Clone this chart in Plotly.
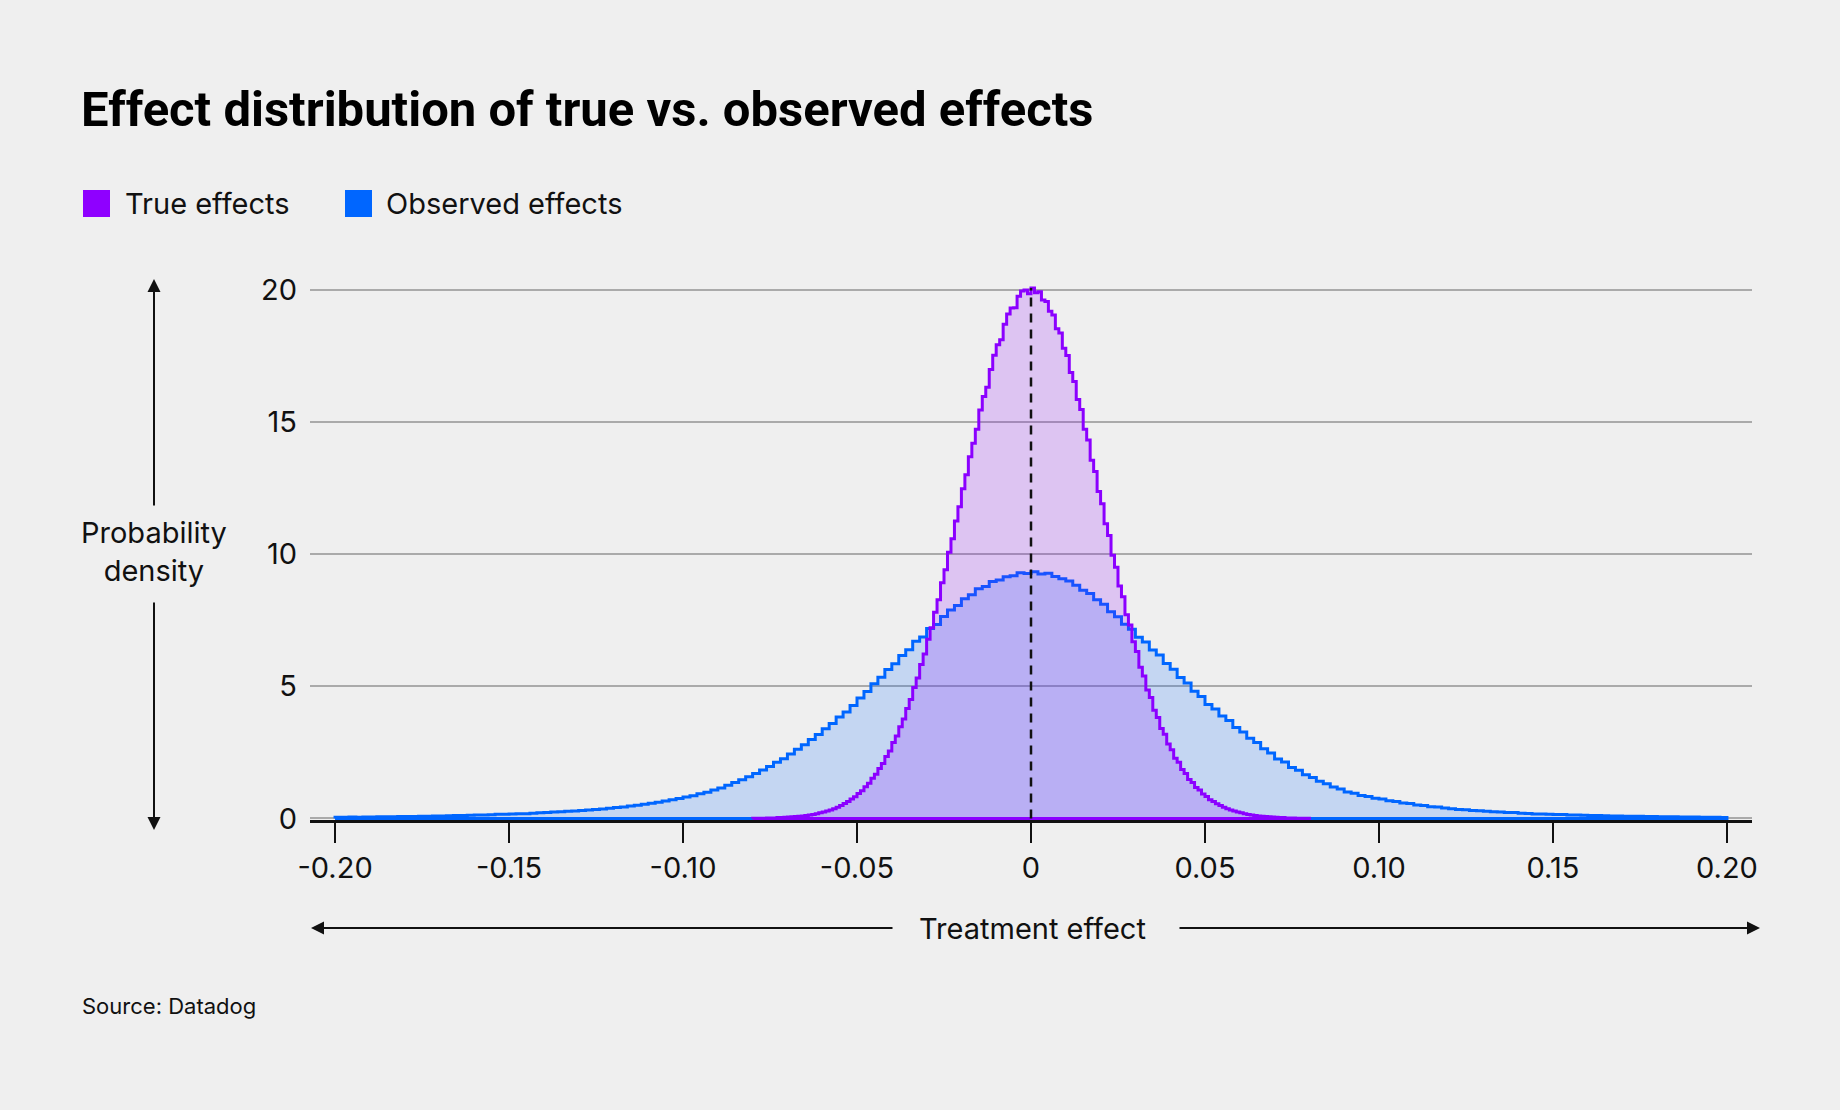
import plotly.graph_objects as go

# ---------------- data ----------------
obs_bin_start = -0.2
obs_bin_width = 0.002
obs_density = [
    0.04, 0.04, 0.05, 0.04, 0.05, 0.05, 0.06, 0.06, 0.06, 0.07,
    0.07, 0.07, 0.08, 0.08, 0.09, 0.09, 0.10, 0.11, 0.11, 0.12,
    0.13, 0.13, 0.14, 0.16, 0.16, 0.17, 0.18, 0.18, 0.20, 0.21,
    0.22, 0.24, 0.25, 0.27, 0.28, 0.30, 0.32, 0.34, 0.36, 0.38,
    0.41, 0.43, 0.47, 0.50, 0.54, 0.57, 0.61, 0.66, 0.71, 0.75,
    0.81, 0.86, 0.93, 0.99, 1.07, 1.15, 1.25, 1.36, 1.46, 1.58,
    1.70, 1.83, 1.96, 2.12, 2.26, 2.44, 2.62, 2.79, 2.98, 3.17,
    3.39, 3.59, 3.84, 4.02, 4.27, 4.55, 4.80, 5.09, 5.34, 5.63,
    5.85, 6.16, 6.38, 6.70, 6.86, 7.18, 7.33, 7.64, 7.88, 8.05,
    8.31, 8.46, 8.69, 8.77, 8.96, 9.02, 9.14, 9.18, 9.29, 9.26,
    9.33, 9.24, 9.27, 9.15, 9.06, 8.98, 8.82, 8.63, 8.51, 8.27,
    8.10, 7.82, 7.63, 7.34, 7.15, 6.85, 6.67, 6.37, 6.18, 5.86,
    5.64, 5.33, 5.12, 4.81, 4.61, 4.31, 4.14, 3.87, 3.70, 3.44,
    3.27, 3.03, 2.87, 2.63, 2.47, 2.25, 2.13, 1.93, 1.82, 1.65,
    1.55, 1.41, 1.31, 1.19, 1.11, 1.00, 0.95, 0.87, 0.83, 0.76,
    0.73, 0.67, 0.64, 0.58, 0.56, 0.51, 0.49, 0.44, 0.43, 0.39,
    0.37, 0.34, 0.33, 0.30, 0.29, 0.27, 0.25, 0.24, 0.22, 0.22,
    0.20, 0.19, 0.17, 0.17, 0.16, 0.15, 0.15, 0.13, 0.13, 0.12,
    0.11, 0.11, 0.10, 0.09, 0.09, 0.08, 0.08, 0.08, 0.07, 0.07,
    0.06, 0.06, 0.06, 0.05, 0.05, 0.05, 0.04, 0.04, 0.04, 0.03,
]

true_bin_start = -0.08
true_bin_width = 0.001
true_density = [
    0.01, 0.01, 0.01, 0.01, 0.02, 0.02, 0.02, 0.03, 0.03, 0.04,
    0.05, 0.06, 0.07, 0.08, 0.09, 0.11, 0.13, 0.15, 0.18, 0.21,
    0.24, 0.28, 0.32, 0.37, 0.42, 0.49, 0.56, 0.64, 0.73, 0.82,
    0.94, 1.05, 1.20, 1.33, 1.52, 1.67, 1.89, 2.08, 2.34, 2.55,
    2.87, 3.12, 3.47, 3.76, 4.16, 4.50, 4.95, 5.31, 5.82, 6.22,
    6.78, 7.21, 7.80, 8.27, 8.91, 9.40, 10.07, 10.58, 11.25, 11.79,
    12.47, 13.00, 13.68, 14.19, 14.72, 15.45, 15.96, 16.31, 16.98, 17.52,
    17.91, 18.10, 18.69, 19.08, 19.30, 19.31, 19.75, 19.95, 19.98, 19.84,
    20.06, 19.88, 19.92, 19.61, 19.55, 19.18, 19.04, 18.52, 18.36, 17.78,
    17.51, 16.86, 16.52, 15.84, 15.46, 14.72, 14.31, 13.55, 13.12, 12.36,
    11.90, 11.14, 10.70, 9.95, 9.50, 8.79, 8.38, 7.70, 7.31, 6.68,
    6.31, 5.72, 5.39, 4.86, 4.57, 4.09, 3.82, 3.40, 3.18, 2.81,
    2.60, 2.28, 2.12, 1.85, 1.70, 1.47, 1.36, 1.17, 1.07, 0.92,
    0.83, 0.71, 0.64, 0.55, 0.49, 0.42, 0.37, 0.32, 0.28, 0.24,
    0.21, 0.18, 0.15, 0.13, 0.11, 0.09, 0.08, 0.07, 0.06, 0.05,
    0.04, 0.03, 0.03, 0.02, 0.02, 0.02, 0.01, 0.01, 0.01, 0.01,
]

reference_effect = 0.0
series_names = ["True effects", "Observed effects"]
x_tick_vals = [-0.20, -0.15, -0.10, -0.05, 0.0, 0.05, 0.10, 0.15, 0.20]
x_tick_text = ["-0.20", "-0.15", "-0.10", "-0.05", "0", "0.05", "0.10", "0.15", "0.20"]
y_tick_vals = [0, 5, 10, 15, 20]
y_tick_text = ["0", "5", "10", "15", "20"]

# ---------------- styles ----------------
BG = "#efefef"
PURPLE = "#8b00ff"
BLUE = "#0066ff"
TEXT = "#111111"
FONT = "Inter, Roboto, sans-serif"
TITLE_FONT = "Liberation Sans Narrow, Roboto, sans-serif"

ML, MR, MT, MB = 310, 88, 279, 290
PW, PH = 1840 - ML - MR, 1110 - MT - MB


def px(X):
    return (X - ML) / PW


def py(Y):
    return (1110 - MB - Y) / PH


def step_path(start, width, vals):
    edges = [start + i * width for i in range(len(vals) + 1)]
    xs, ys = [edges[0]], [0]
    for i, v in enumerate(vals):
        xs.append(edges[i])
        ys.append(v)
    xs += [edges[-1], edges[-1], edges[0]]
    ys += [vals[-1], 0, 0]
    return xs, ys


fig = go.Figure()

ox, oy = step_path(obs_bin_start, obs_bin_width, obs_density)
fig.add_trace(go.Scatter(x=ox, y=oy, mode="lines", line=dict(color=BLUE, width=3, shape="hv"),
                         fill="toself", fillcolor="rgba(0,102,255,0.18)", name=series_names[1],
                         showlegend=False, hoverinfo="skip"))
tx, ty = step_path(true_bin_start, true_bin_width, true_density)
fig.add_trace(go.Scatter(x=tx, y=ty, mode="lines", line=dict(color=PURPLE, width=3, shape="hv"),
                         fill="toself", fillcolor="rgba(139,0,255,0.18)", name=series_names[0],
                         showlegend=False, hoverinfo="skip"))
fig.add_trace(go.Scatter(x=[reference_effect, reference_effect], y=[0, max(true_density)],
                         mode="lines", line=dict(color=TEXT, width=2.5, dash="9px,7px"),
                         showlegend=False, hoverinfo="skip"))

fig.update_layout(
    width=1840, height=1110,
    paper_bgcolor=BG, plot_bgcolor=BG,
    margin=dict(l=ML, r=MR, t=MT, b=MB),
    font=dict(family=FONT, size=29, color=TEXT),
    showlegend=False,
    title=dict(text="Effect distribution of true vs. observed effects",
               font=dict(family=TITLE_FONT, size=49, weight=700, color="#000000"),
               x=81 / 1840, xanchor="left", xref="container",
               y=1 - 109 / 1110, yanchor="middle", yref="container"),
    xaxis=dict(range=[-0.2072, 0.2072], tickvals=x_tick_vals, ticktext=x_tick_text,
               showgrid=False, zeroline=False, showline=True, linecolor=TEXT, linewidth=2.5,
               ticks="outside", ticklen=20, tickwidth=2, tickcolor=TEXT,
               tickfont=dict(size=29, family=FONT, color=TEXT), fixedrange=True),
    yaxis=dict(range=[-0.06, 20.4], tickvals=y_tick_vals, ticktext=y_tick_text,
               showgrid=True, gridcolor="#aaaaaa", gridwidth=1.5, zeroline=False,
               showline=False, ticks="", ticklabelstandoff=12,
               tickfont=dict(size=29, family=FONT, color=TEXT), fixedrange=True),
)

# legend (drawn manually so the swatches can be large squares)
legend_items = [(series_names[0], "#8f00ff", 83, 123), (series_names[1], BLUE, 345, 384)]
for name, col, sx, tx0 in legend_items:
    fig.add_shape(type="rect", xref="paper", yref="paper", x0=px(sx), x1=px(sx + 27),
                  y0=py(217), y1=py(190), fillcolor=col, line=dict(width=0))
    fig.add_annotation(text=name, xref="paper", yref="paper", x=px(tx0), y=py(203),
                       xanchor="left", yanchor="middle", showarrow=False,
                       font=dict(size=29, family=FONT, color=TEXT))

# y-axis label with split arrow
ax_x = px(154)
fig.add_annotation(text="Probability<br>density", xref="paper", yref="paper",
                   x=ax_x, y=py(551), xanchor="center", yanchor="middle",
                   showarrow=False, font=dict(size=29, family=FONT, color=TEXT), align="center")
fig.add_annotation(text="", xref="paper", yref="paper", x=ax_x, y=py(279), ax=0, ay=228,
                   showarrow=True, arrowhead=2, arrowsize=1.3, arrowwidth=2, arrowcolor=TEXT)
fig.add_annotation(text="", xref="paper", yref="paper", x=ax_x, y=py(830), ax=0, ay=-229,
                   showarrow=True, arrowhead=2, arrowsize=1.3, arrowwidth=2, arrowcolor=TEXT)

# x-axis label with split arrow
xy = py(928)
fig.add_annotation(text="Treatment effect", xref="paper", yref="paper", x=px(1032), y=xy,
                   xanchor="center", yanchor="middle", showarrow=False,
                   font=dict(size=29, family=FONT, color=TEXT))
fig.add_annotation(text="", xref="paper", yref="paper", x=px(311), y=xy, ax=583, ay=0,
                   showarrow=True, arrowhead=2, arrowsize=1.3, arrowwidth=2, arrowcolor=TEXT)
fig.add_annotation(text="", xref="paper", yref="paper", x=px(1760), y=xy, ax=-582, ay=0,
                   showarrow=True, arrowhead=2, arrowsize=1.3, arrowwidth=2, arrowcolor=TEXT)

# source
fig.add_annotation(text="Source: Datadog", xref="paper", yref="paper", x=px(80),
                   y=py(1006), xanchor="left", yanchor="middle", showarrow=False,
                   font=dict(size=22, family=FONT, color=TEXT))

fig.write_html("out.html")
